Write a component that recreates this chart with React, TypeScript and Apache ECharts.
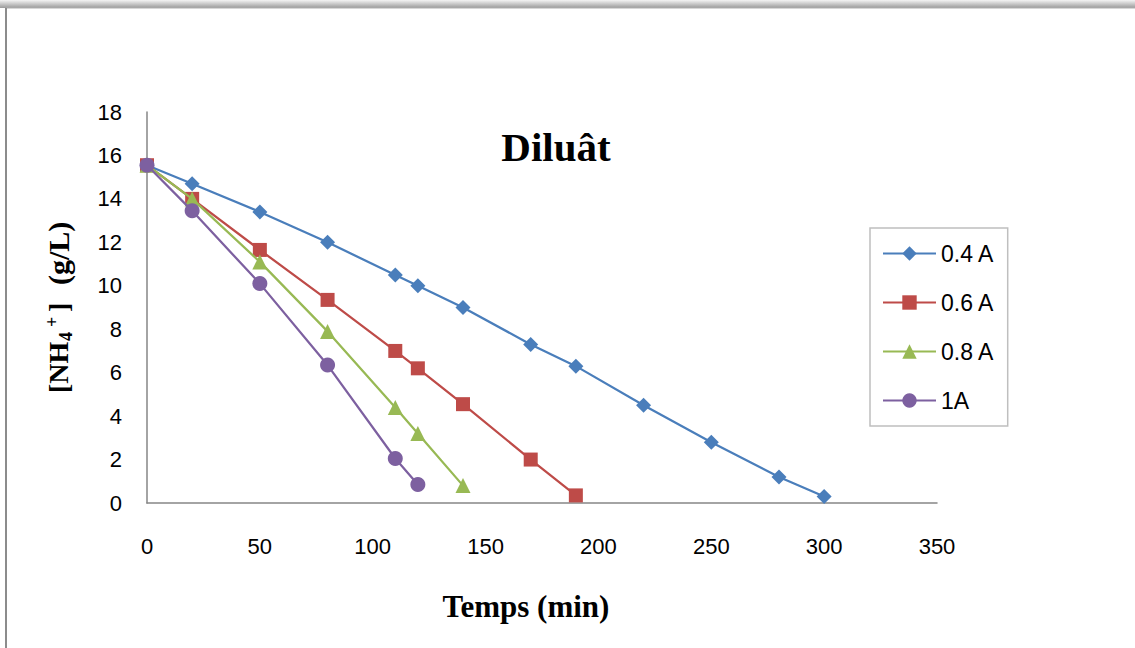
import React, { useEffect, useRef } from "react";
import * as echarts from "echarts";

const seriesNames = ["0.4 A", "0.6 A", "0.8 A", "1A"];
const timeA04 = [0, 20, 50, 80, 110, 120, 140, 170, 190, 220, 250, 280, 300];
const nh4A04 = [15.55, 14.7, 13.4, 12.0, 10.5, 10.0, 9.0, 7.3, 6.3, 4.5, 2.8, 1.2, 0.3];
const timeA06 = [0, 20, 50, 80, 110, 120, 140, 170, 190];
const nh4A06 = [15.55, 14.0, 11.65, 9.35, 7.0, 6.2, 4.55, 2.0, 0.35];
const timeA08 = [0, 20, 50, 80, 110, 120, 140];
const nh4A08 = [15.55, 14.0, 11.1, 7.9, 4.4, 3.2, 0.8];
const timeA10 = [0, 20, 50, 80, 110, 120];
const nh4A10 = [15.55, 13.45, 10.1, 6.35, 2.05, 0.85];

const colors = ["#4A7EBB", "#BE4B48", "#98B954", "#7D60A0"];
const symbols = ["diamond", "rect", "triangle", "circle"];
const symbolSizes = [15, 14, 15, 15];

const zip = (xs: number[], ys: number[]) => xs.map((x, i) => [x, ys[i]]);

export default function App() {
  const ref = useRef<HTMLDivElement>(null);
  useEffect(() => {
    if (!ref.current) return;
    const chart = echarts.init(ref.current, null, { renderer: "svg" });
    const data = [zip(timeA04, nh4A04), zip(timeA06, nh4A06), zip(timeA08, nh4A08), zip(timeA10, nh4A10)];
    const serif = "'Liberation Serif', 'Times New Roman', serif";
    const sans = "'Liberation Sans', Arial, sans-serif";
    const t = (text: string, x: number, y: number, size: number) => ({
      type: "text",
      x,
      y,
      style: {
        text,
        font: `bold ${size}px ${serif}`,
        fill: "#000",
        align: "left",
        verticalAlign: "middle",
        textAlign: "left",
        textVerticalAlign: "middle",
      },
    });
    chart.setOption({
      animation: false,
      backgroundColor: "#ffffff",
      grid: { left: 147, right: 198, top: 112, bottom: 145, containLabel: false },
      xAxis: {
        type: "value",
        min: 0,
        max: 350,
        interval: 50,
        axisLine: { show: true, lineStyle: { color: "#868686", width: 1.5 } },
        axisTick: { show: false },
        splitLine: { show: false },
        axisLabel: { margin: 32, color: "#000", fontSize: 22, fontFamily: sans },
      },
      yAxis: {
        type: "value",
        min: 0,
        max: 18,
        interval: 2,
        axisLine: { show: true, lineStyle: { color: "#868686", width: 1.5 } },
        axisTick: { show: false },
        splitLine: { show: false },
        axisLabel: { margin: 25, color: "#000", fontSize: 22, fontFamily: sans },
      },
      legend: {
        orient: "vertical",
        left: 870,
        top: 228,
        padding: [14, 13, 14, 12],
        itemWidth: 53,
        itemHeight: 18,
        itemGap: 26,
        borderColor: "#bfbfbf",
        borderWidth: 1.5,
        textStyle: { fontSize: 23, fontFamily: sans, color: "#000" },
        data: seriesNames,
      },
      series: seriesNames.map((name, i) => ({
        name,
        type: "line",
        data: data[i],
        symbol: symbols[i],
        symbolSize: symbolSizes[i],
        itemStyle: { color: colors[i] },
        lineStyle: { color: colors[i], width: 2.25 },
        z: 2 + i,
      })),
      graphic: [
        {
          type: "rect",
          shape: { x: 0, y: 0, width: 1135, height: 8 },
          style: {
            fill: new echarts.graphic.LinearGradient(0, 0, 0, 1, [
              { offset: 0, color: "#f4f4f4" },
              { offset: 1, color: "#9a9a9a" },
            ]),
          },
          silent: true,
        },
        {
          type: "line",
          shape: { x1: 6, y1: 8, x2: 1135, y2: 8 },
          style: { stroke: "#b0b0b0", lineWidth: 1 },
          silent: true,
        },
        {
          type: "line",
          shape: { x1: 6, y1: 8, x2: 6, y2: 648 },
          style: { stroke: "#8c8c8c", lineWidth: 2 },
          silent: true,
        },
        {
          type: "text",
          x: 556,
          y: 147,
          style: {
            text: "Diluât",
            font: `bold 41px ${serif}`,
            fill: "#000",
            align: "center",
            verticalAlign: "middle",
            textAlign: "center",
            textVerticalAlign: "middle",
          },
        },
        {
          type: "text",
          x: 526,
          y: 606,
          style: {
            text: "Temps (min)",
            font: `bold 31px ${serif}`,
            fill: "#000",
            align: "center",
            verticalAlign: "middle",
            textAlign: "center",
            textVerticalAlign: "middle",
          },
        },
        {
          type: "group",
          x: 58,
          y: 393,
          rotation: Math.PI / 2,
          children: [
            t("[NH", 0, 0, 28),
            t("4", 52, 8, 18),
            t("+", 66, -6, 18),
            t("]", 81, 0, 28),
            t("(g/L)", 108, 0, 30),
          ],
        },
      ],
    });
    return () => chart.dispose();
  }, []);
  return (
    <div
      ref={ref}
      style={{ position: "fixed", left: 0, top: 0, width: 1135, height: 648, background: "#fff" }}
    />
  );
}
